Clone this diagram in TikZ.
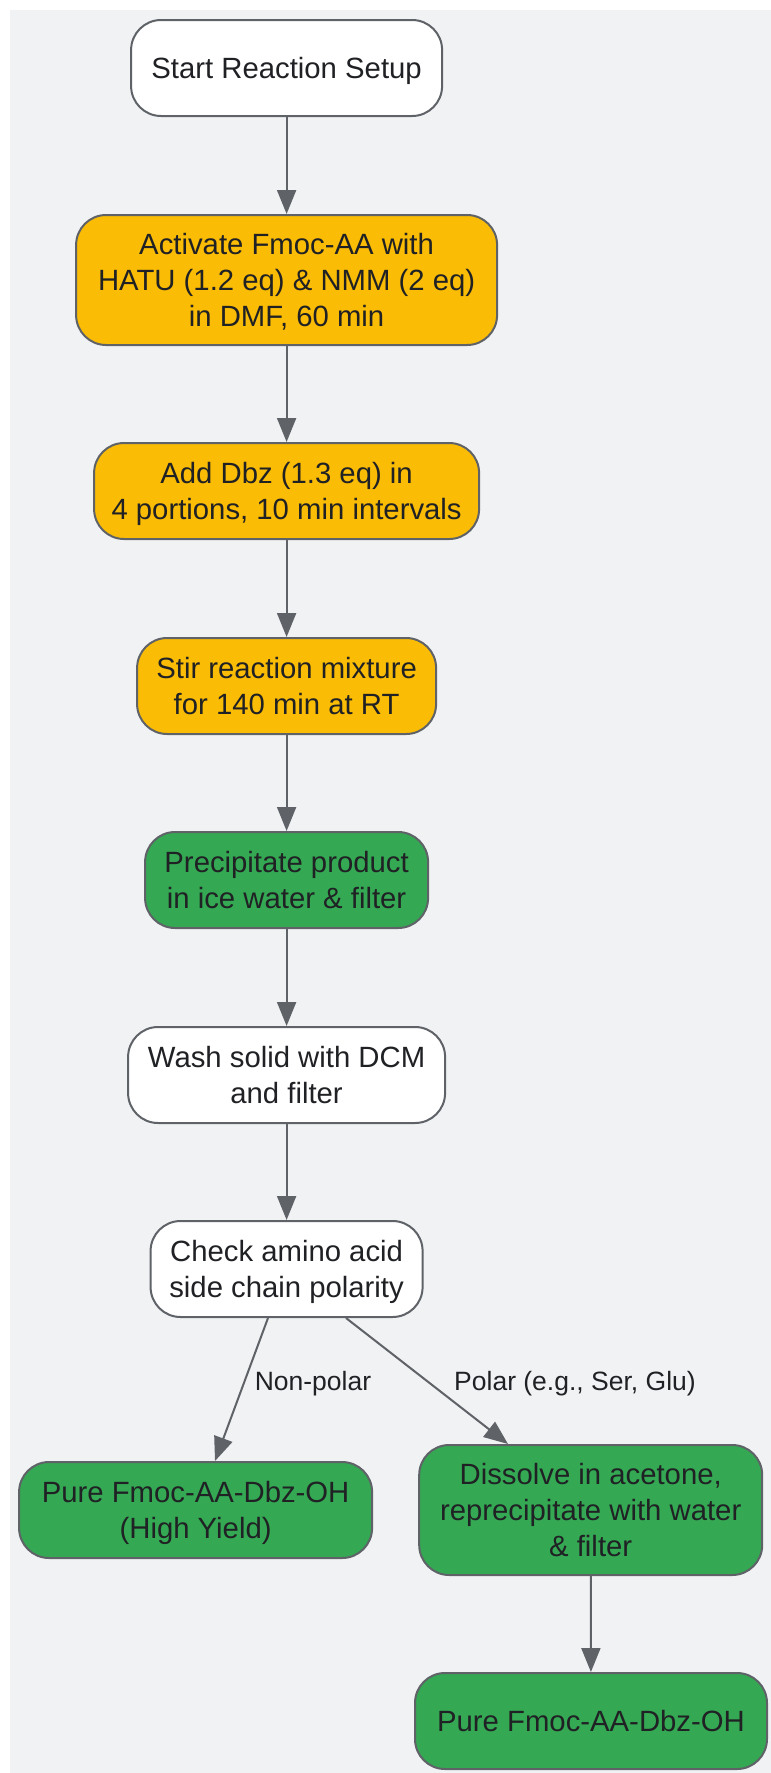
\documentclass[tikz,border=0pt]{standalone}
\usepackage{fontspec}
\setmainfont{Liberation Sans}
\usetikzlibrary{arrows.meta}
\definecolor{bgc}{HTML}{F1F2F4}
\definecolor{edgec}{HTML}{5F6368}
\definecolor{txtc}{HTML}{202124}
\definecolor{orangec}{HTML}{FABC05}
\definecolor{greenc}{HTML}{34A853}
\newcommand{\boxtxt}[1]{\raisebox{-3.5pt}[\height][\depth]{\begin{tabular}{@{}c@{}}#1\end{tabular}}}
\begin{document}
\begin{tikzpicture}[x=1pt,y=1pt,
  box/.style={draw=edgec, line width=2pt, rounded corners=30pt, inner sep=0pt,
    text=txtc, font=\fontsize{29.3pt}{36pt}\selectfont},
  whitebox/.style={box, fill=white},
  orangebox/.style={box, fill=orangec},
  greenbox/.style={box, fill=greenc},
  conn/.style={draw=edgec, line width=2pt, -{Triangle[length=24pt,width=19pt]}},
  elabel/.style={text=txtc, font=\fontsize{26.5pt}{32pt}\selectfont, inner sep=0pt}
]
\useasboundingbox (0,0) rectangle (771,-1773);
\fill[bgc] (10,-10) rectangle (771,-1773);

\node[whitebox, minimum width=311pt, minimum height=96pt] (start) at (286.6,-68) {\boxtxt{Start Reaction Setup}};
\node[orangebox, minimum width=421pt, minimum height=130pt] (activate) at (286.6,-280) {\boxtxt{Activate Fmoc-AA with\\HATU (1.2 eq) \& NMM (2 eq)\\in DMF, 60 min}};
\node[orangebox, minimum width=385pt, minimum height=96pt] (add) at (286.6,-491) {\boxtxt{Add Dbz (1.3 eq) in\\4 portions, 10 min intervals}};
\node[orangebox, minimum width=299pt, minimum height=96pt] (stir) at (286.6,-686) {\boxtxt{Stir reaction mixture\\for 140 min at RT}};
\node[greenbox, minimum width=283pt, minimum height=96pt] (precip) at (286.6,-880) {\boxtxt{Precipitate product\\in ice water \& filter}};
\node[whitebox, minimum width=317pt, minimum height=96pt] (wash) at (286.6,-1075) {\boxtxt{Wash solid with DCM\\and filter}};
\node[whitebox, minimum width=272pt, minimum height=96pt] (check) at (286.6,-1269) {\boxtxt{Check amino acid\\side chain polarity}};
\node[greenbox, minimum width=353pt, minimum height=96pt] (purehy) at (195.6,-1510) {\boxtxt{Pure Fmoc-AA-Dbz-OH\\(High Yield)}};
\node[greenbox, minimum width=343pt, minimum height=130pt] (dissolve) at (590.7,-1510) {\boxtxt{Dissolve in acetone,\\reprecipitate with water\\\& filter}};
\node[greenbox, minimum width=352pt, minimum height=96pt] (pure) at (591,-1721) {\boxtxt{Pure Fmoc-AA-Dbz-OH}};

\draw[conn] (start) -- (activate);
\draw[conn] (activate) -- (add);
\draw[conn] (add) -- (stir);
\draw[conn] (stir) -- (precip);
\draw[conn] (precip) -- (wash);
\draw[conn] (wash) -- (check);
\draw[conn] ([xshift=-18.6pt]check.south) -- ([xshift=19.4pt]purehy.north);
\draw[conn] ([xshift=59.4pt]check.south) -- ([xshift=-82.7pt]dissolve.north);
\draw[conn] (dissolve) -- (pure);

\node[elabel] (lnp) at (313,-1384) {Non-polar};
\node[elabel] (lp) at (575,-1384) {Polar (e.g., Ser, Glu)};
\end{tikzpicture}
\end{document}
